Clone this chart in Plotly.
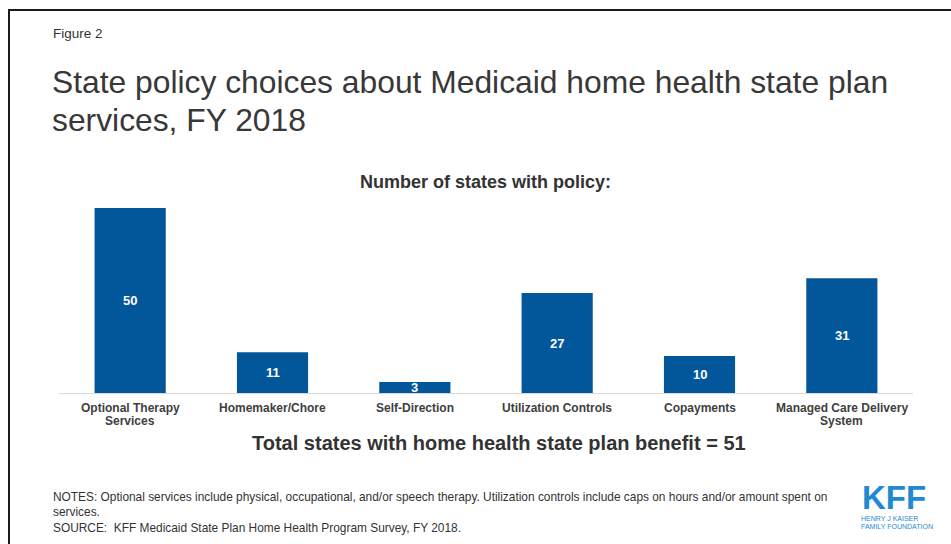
import plotly.graph_objects as go

# Policy categories and number of states with each policy, FY 2018
categories = [
    "Optional Therapy<br>Services",
    "Homemaker/Chore",
    "Self-Direction",
    "Utilization Controls",
    "Copayments",
    "Managed Care Delivery<br>System",
]
states_with_policy = [50, 11, 3, 27, 10, 31]
total_states = 51

W, H = 951, 544
# plot area in pixels
PL, PR, PT, PB = 59, 913, 200, 393
Y_MAX = 52.16

FONT = "Liberation Sans, Arial, sans-serif"
TEXT = "#333333"
BAR = "#02569A"


def px(x):
    return (x - PL) / (PR - PL)


def py(y):
    return (PB - y) / (PB - PT)


fig = go.Figure()
fig.add_trace(
    go.Bar(
        x=categories,
        y=states_with_policy,
        width=0.5,
        marker=dict(color=BAR, line=dict(width=0)),
        hoverinfo="skip",
    )
)

annotations = []
# value labels centred inside each bar
for c, v in zip(categories, states_with_policy):
    annotations.append(dict(
        x=c, y=v / 2, xref="x", yref="y", text=f"<b>{v}</b>", showarrow=False,
        font=dict(family=FONT, size=13, color="white"),
        xanchor="center", yanchor="middle",
    ))

# category labels under the axis, one line at a time for tight line spacing
for c in categories:
    for i, line in enumerate(c.split("<br>")):
        annotations.append(dict(
            x=c, y=py(408 + 13 * i), xref="x", yref="paper", text=f"<b>{line}</b>",
            showarrow=False, font=dict(family=FONT, size=12, color="#404040"),
            xanchor="center", yanchor="middle",
        ))


def label(x, y, text, size, color=TEXT, xanchor="left", bold=False):
    annotations.append(dict(
        x=px(x), y=py(y), xref="paper", yref="paper",
        text=f"<b>{text}</b>" if bold else text, showarrow=False,
        font=dict(family=FONT, size=size, color=color),
        xanchor=xanchor, yanchor="middle", align="left",
    ))


label(51, 33, "Figure 2", 13.5)
label(50, 82, "State policy choices about Medicaid home health state plan", 31.8, color="#383838")
label(50, 120, "services, FY 2018", 31.8, color="#383838")
label(485, 182, "Number of states with policy:", 18, xanchor="center", bold=True)
label(499, 443, f"Total states with home health state plan benefit = {total_states}",
      20, xanchor="center", bold=True)
label(51, 497, "NOTES: Optional services include physical, occupational, and/or speech therapy. "
      "Utilization controls include caps on hours and/or amount spent on", 11.9)
label(51, 512, "services.", 11.9)
label(51, 528, "SOURCE:  KFF Medicaid State Plan Home Health Program Survey, FY 2018.", 11.9)

# KFF logo wordmark
LOGO = "#1F8AD2"
label(894, 497, "KFF", 33, color=LOGO, xanchor="center", bold=True)
label(859, 518, "HENRY J KAISER", 7, color=LOGO)
label(859, 526, "FAMILY FOUNDATION", 7, color=LOGO)

# outer frame
shapes = [dict(
    type="rect", xref="paper", yref="paper",
    x0=px(9), x1=px(980), y0=py(10), y1=py(580),
    line=dict(color="#1a1a1a", width=2), fillcolor="rgba(0,0,0,0)", layer="above",
)]

fig.update_layout(
    width=W, height=H,
    margin=dict(l=PL, r=W - PR, t=PT, b=H - PB, pad=0),
    paper_bgcolor="white", plot_bgcolor="white",
    showlegend=False,
    bargap=0.5,
    annotations=annotations,
    shapes=shapes,
    xaxis=dict(
        showline=True, linecolor="#d9d9d9", linewidth=1,
        showgrid=False, ticks="", zeroline=False, showticklabels=False,
        fixedrange=True,
    ),
    yaxis=dict(
        range=[0, Y_MAX], visible=False, showgrid=False, zeroline=False, fixedrange=True,
    ),
)

fig.write_html("out.html", config={"displayModeBar": False})
